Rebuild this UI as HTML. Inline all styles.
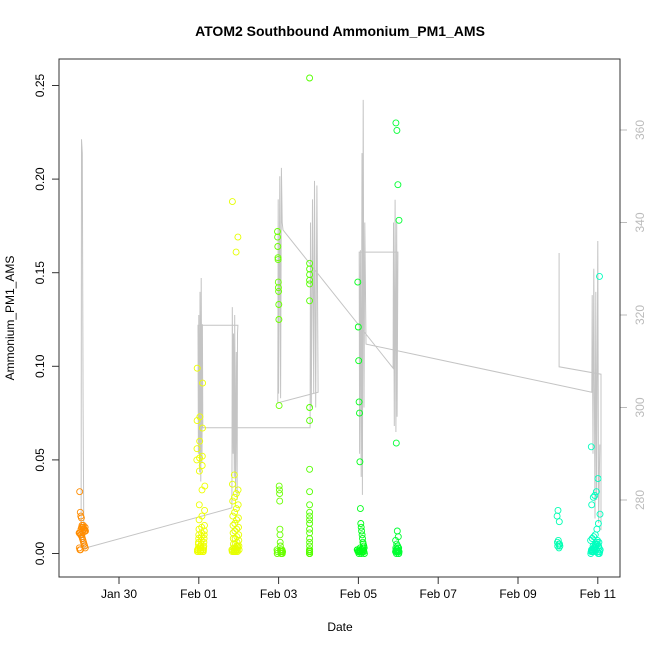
<!DOCTYPE html>
<html><head><meta charset="utf-8"><style>
html,body{margin:0;padding:0;background:#fff;}
svg{display:block;font-family:"Liberation Sans",sans-serif;}
</style></head><body>
<svg id="chart" width="650" height="650" viewBox="0 0 650 650">
<rect x="0" y="0" width="650" height="650" fill="#fff"/>
<text x="340" y="36" text-anchor="middle" font-size="14" font-weight="bold">ATOM2 Southbound Ammonium_PM1_AMS</text>
<text x="340" y="631" text-anchor="middle" font-size="12">Date</text>
<text x="14" y="318" text-anchor="middle" font-size="12" transform="rotate(-90 14 318)">Ammonium_PM1_AMS</text>
<g id="grayLayer"></g>
<g id="pointLayer"></g>
<g id="axes"></g>
<rect x="59" y="59" width="561" height="518" fill="none" stroke="#333" stroke-width="1"/>
</svg>
<script>
// axis tick data
const xTickDays = [30, 32, 34, 36, 38, 40, 42];
const xTickLabels = ["Jan 30", "Feb 01", "Feb 03", "Feb 05", "Feb 07", "Feb 09", "Feb 11"];
const yTickValues = [0.00, 0.05, 0.10, 0.15, 0.20, 0.25];
const yTickLabels = ["0.00", "0.05", "0.10", "0.15", "0.20", "0.25"];
const y2TickValues = [280, 300, 320, 340, 360];
const y2TickLabels = ["280", "300", "320", "340", "360"];

// scatter clusters: start day, end day, values
const clusterStart = [29.00, 31.95, 32.83, 33.96, 34.76, 35.97, 36.93, 40.98, 41.82];
const clusterEnd   = [29.16, 32.15, 33.01, 34.10, 34.97, 36.15, 37.02, 41.05, 42.06];
const clusterHue   = [33, 64, 66, 95, 100, 126, 132, 162, 165];
const clusterValues = [
 [0.033,0.022,0.020,0.019,0.015,0.014,0.014,0.013,0.013,0.012,0.012,0.011,0.011,0.010,0.010,0.009,0.008,0.007,0.006,0.005,0.004,0.003,0.003,0.002,0.002,0.013,0.014,0.012,0.011,0.015,0.013,0.012,0.014,0.011],
 [0.099,0.091,0.073,0.071,0.067,0.060,0.056,0.052,0.051,0.050,0.047,0.044,0.036,0.034,0.026,0.023,0.020,0.018,0.015,0.014,0.013,0.012,0.011,0.010,0.010,0.009,0.008,0.008,0.007,0.006,0.006,0.005,0.005,0.004,0.004,0.003,0.003,0.002,0.002,0.002,0.001,0.001,0.001,0.001,0.002,0.001,0.003,0.002,0.001,0.004,0.002,0.001,0.003,0.001,0.002,0.001],
 [0.188,0.169,0.161,0.042,0.037,0.034,0.032,0.030,0.028,0.026,0.024,0.022,0.020,0.019,0.018,0.016,0.015,0.014,0.013,0.012,0.011,0.010,0.009,0.008,0.008,0.007,0.006,0.005,0.005,0.004,0.004,0.003,0.003,0.002,0.002,0.001,0.001,0.002,0.001,0.003,0.001,0.002,0.004,0.001,0.002,0.001,0.003,0.002,0.001],
 [0.172,0.169,0.164,0.158,0.157,0.145,0.142,0.140,0.133,0.125,0.079,0.036,0.034,0.032,0.028,0.013,0.010,0.006,0.004,0.002,0.001,0.001,0.000,0.001,0.002,0.001,0.000,0.001,0.002,0.001,0.000,0.001,0.001,0.002,0.000,0.001],
 [0.254,0.155,0.152,0.149,0.146,0.144,0.135,0.078,0.071,0.045,0.033,0.026,0.022,0.020,0.018,0.016,0.013,0.011,0.008,0.006,0.004,0.002,0.001,0.001,0.000,0.001,0.002,0.001,0.000,0.001,0.002,0.001,0.000,0.001,0.001,0.002,0.000],
 [0.145,0.121,0.103,0.081,0.075,0.049,0.024,0.016,0.014,0.012,0.010,0.008,0.006,0.005,0.004,0.003,0.002,0.002,0.001,0.001,0.000,0.002,0.001,0.003,0.001,0.002,0.000,0.001,0.002,0.003,0.001,0.002,0.001,0.000,0.002],
 [0.230,0.226,0.197,0.178,0.059,0.012,0.009,0.007,0.005,0.004,0.003,0.002,0.002,0.001,0.001,0.000,0.002,0.001,0.003,0.001,0.002,0.000,0.001,0.002,0.003,0.001,0.002,0.001,0.000],
 [0.023,0.020,0.017,0.007,0.006,0.005,0.005,0.004,0.004,0.003],
 [0.057,0.148,0.040,0.033,0.031,0.030,0.026,0.021,0.016,0.013,0.010,0.009,0.008,0.007,0.006,0.005,0.004,0.003,0.002,0.001,0.000,0.001,0.002,0.003,0.004,0.002,0.001,0.000,0.002,0.005,0.003,0.001,0.002,0.004,0.006,0.003,0.001,0.002,0.000,0.003,0.007,0.005,0.002,0.001]
];

// gray secondary series (right axis); null = break
const grayDays = [29.05,29.06,29.08,29.10,29.12,29.15,
 32.83,32.84,32.86,32.87,32.89,32.90,32.92,32.94,32.96,32.97,32.98,
 31.98,31.99,32.00,32.02,32.03,32.05,32.06,32.08,32.09,32.10,
 34.79,34.80,34.82,34.85,34.88,34.90,34.93,34.96,34.99,
 33.98,33.99,34.00,34.03,34.05,34.07,34.09,34.11,
 36.87,36.88,36.90,36.92,36.94,36.96,36.97,36.99,
 36.02,36.03,36.05,36.07,36.09,36.10,36.12,36.14,36.16,36.19,
 41.85,41.86,41.88,41.90,41.93,41.95,41.97,42.00,42.02,42.05,
 null,
 41.03,41.03,42.08,42.08];
const grayValues = [269.6,358,355,300,269.6,269.6,
 278.3,321.7,290,316,285,320,282,312,280,316,317.8,
 317.8,290,320,286,325,284,328,288,318,295.6,
 295.6,340,300,345,303,349,300,348,303.3,
 301,345,303,350,302,351.8,340,338.4,
 308.5,340,296,344.9,294.7,340,298,333.6,
 333.6,290,334,285,355,281.1,366.5,300,340,313.7,
 303.3,324.3,290,330,276,325,280,336,275,292,
 null,
 333.4,308.8,307.2,273.5];

const NS = "http://www.w3.org/2000/svg";
const PL = 59, PR = 620, PT = 59, PB = 577;
function xScale(d){ return 119 + (d - 30) * 39.9; }
function yScale(v){ return 553.5 - v / 0.05 * 93.6; }
function y2Scale(v){ return 500 - (v - 280) / 80 * 370; }
function mk(tag, attrs){ const e = document.createElementNS(NS, tag); for (const k in attrs) e.setAttribute(k, attrs[k]); return e; }

const axes = document.getElementById('axes');
xTickDays.forEach((d,i)=>{
  const x = xScale(d);
  const t = mk('line',{x1:x,y1:PB,x2:x,y2:PB+7,stroke:'#333'});
  
  
  axes.appendChild(t);
  const l = mk('text',{x:x,y:PB+21,'text-anchor':'middle','font-size':12});
  
  
  l.textContent = xTickLabels[i];
  axes.appendChild(l);
});
yTickValues.forEach((v,i)=>{
  const y = yScale(v);
  const t = mk('line',{x1:PL-7,y1:y,x2:PL,y2:y,stroke:'#333'});
  
  
  axes.appendChild(t);
  const l = mk('text',{x:44,y:y,'text-anchor':'middle','font-size':12,transform:'rotate(-90 44 '+y+')'});
  
  
  l.textContent = yTickLabels[i];
  axes.appendChild(l);
});
y2TickValues.forEach((v,i)=>{
  const y = y2Scale(v);
  const t = mk('line',{x1:PR,y1:y,x2:PR+7,y2:y,stroke:'#bbb'});
  
  
  axes.appendChild(t);
  const l = mk('text',{x:644,y:y,'text-anchor':'middle','font-size':12,fill:'#bbb',transform:'rotate(-90 644 '+y+')'});
  
  
  l.textContent = y2TickLabels[i];
  axes.appendChild(l);
});

// gray line
const gl = document.getElementById('grayLayer');
let seg = [];
function flush(){
  if (seg.length > 1) {
    const p = mk('polyline',{points:seg.join(' '),fill:'none',stroke:'#c4c4c4','stroke-width':1});
    
    
    gl.appendChild(p);
  }
  seg = [];
}
for (let i=0;i<grayDays.length;i++){
  if (grayDays[i]===null || grayValues[i]===null){ flush(); continue; }
  seg.push(xScale(grayDays[i]).toFixed(1)+','+y2Scale(grayValues[i]).toFixed(1));
}
flush();

// scatter points (time order within a cluster is interleaved)
const pl = document.getElementById('pointLayer');
clusterValues.forEach((vals,c)=>{
  const g = mk('g',{});
  
  
  const col = 'hsl('+clusterHue[c]+',100%,50%)';
  const n = vals.length;
  vals.forEach((v,i)=>{
    const slot = (i*37 + 3) % n;
    const d = clusterStart[c] + (n>1 ? slot/(n-1) : 0) * (clusterEnd[c]-clusterStart[c]);
    const ci = mk('circle',{cx:xScale(d).toFixed(1),cy:yScale(v).toFixed(1),r:3,fill:'none',stroke:col,'stroke-width':0.9});
    
    
    g.appendChild(ci);
  });
  pl.appendChild(g);
});
</script>
</body></html>
